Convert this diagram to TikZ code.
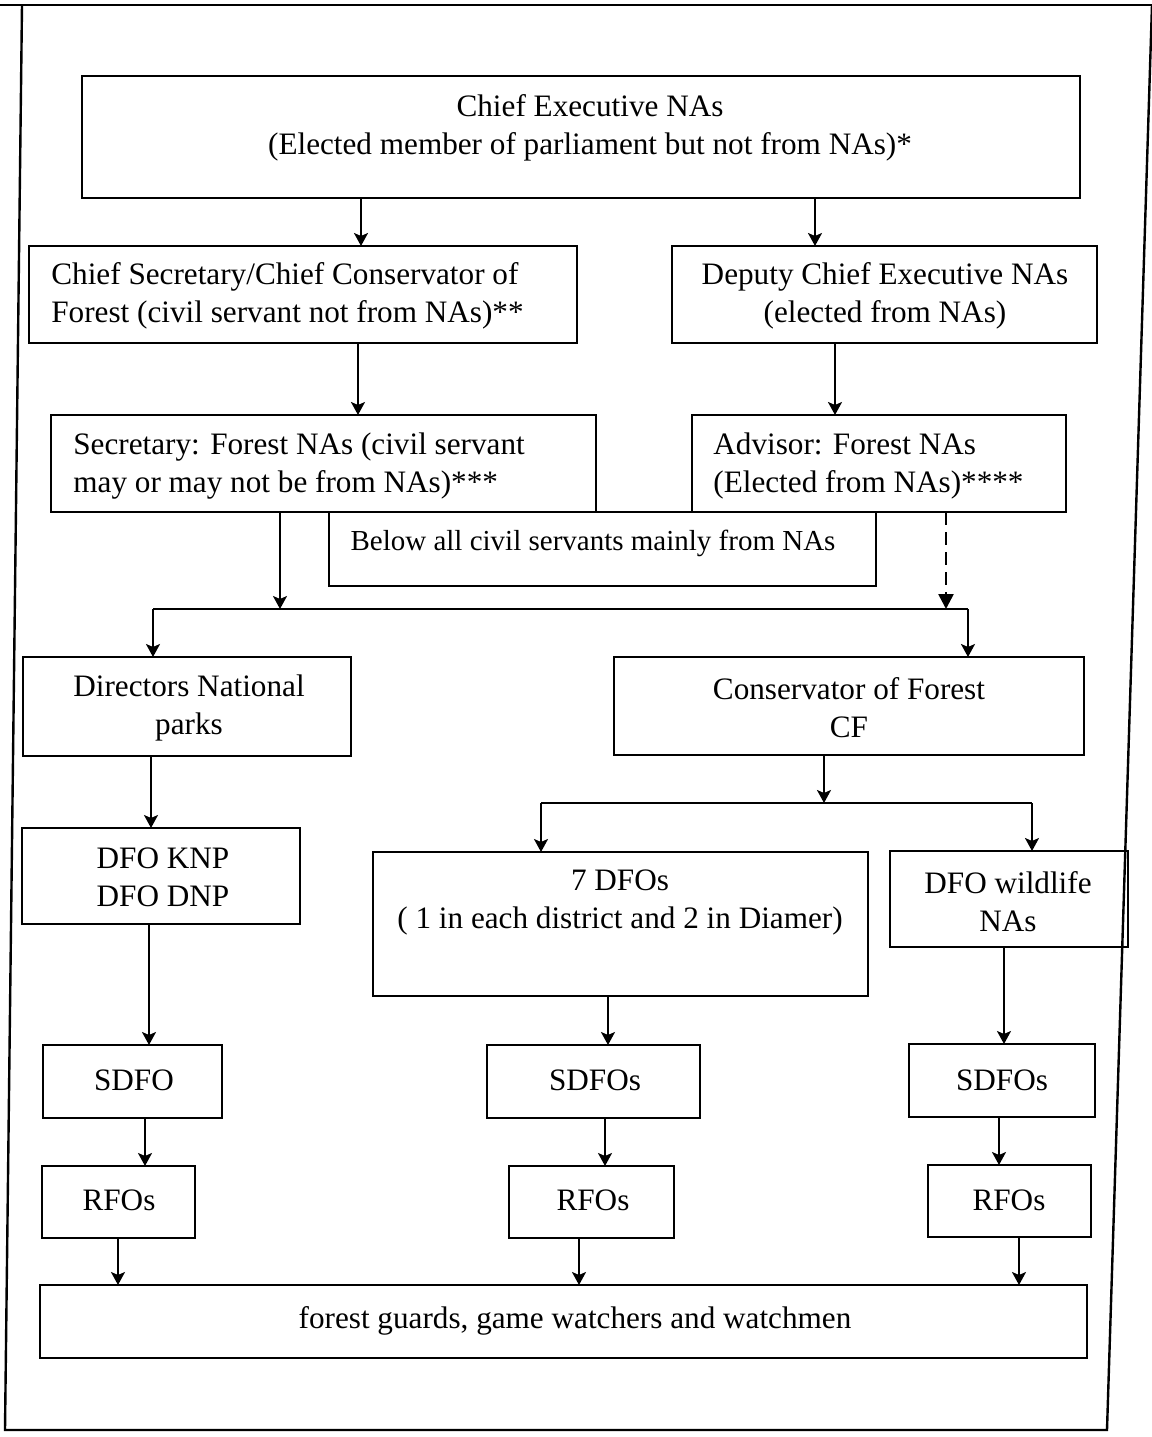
\documentclass[tikz,border=0pt]{standalone}
\usepackage{fontspec}
\setmainfont{Liberation Serif}
\usetikzlibrary{arrows.meta,fit}
\begin{document}
\begin{tikzpicture}[x=0.5pt,y=-0.5pt,
  box/.style={draw, line width=1.3pt, inner sep=0pt, outer sep=0pt},
  txt/.style={inner sep=0pt, font=\fontsize{15.6}{19}\selectfont, align=center},
  smalltxt/.style={inner sep=0pt, font=\fontsize{14.5}{17}\selectfont, align=center},
  wire/.style={line width=1pt},
  conn/.style={line width=1pt, -{Stealth[length=6.5pt,width=7pt,inset=1.5pt]}},
  dashconn/.style={line width=1.3pt, dash pattern=on 6.5pt off 3.5pt, -{Triangle[length=7.5pt,width=7.5pt]}},
  frame/.style={line width=1.2pt}]
\useasboundingbox (0,0) rectangle (1152,1437);
% outer frame
\draw[frame] (0,5) -- (1152,5);
\draw[frame] (22,5) -- (5,1430) -- (1107,1430) -- (1152,5);

% boxes
\node[box, fit={(82,76) (1080,198)}] (b1) {};
\node[box, fit={(29,246) (577,343)}] (b2L) {};
\node[box, fit={(672,246) (1097,343)}] (b2R) {};
\node[box, fit={(51,415) (596,512)}] (b3L) {};
\node[box, fit={(692,415) (1066,512)}] (b3R) {};
\node[box, fit={(329,512) (876,586)}] (bBelow) {};
\node[box, fit={(23,657) (351,756)}] (b4L) {};
\node[box, fit={(614,657) (1084,755)}] (b4R) {};
\node[box, fit={(22,828) (300,924)}] (b5L) {};
\node[box, fit={(373,852) (868,996)}] (b6) {};
\node[box, fit={(890,851) (1128,947)}] (b7) {};
\node[box, fit={(43,1045) (222,1118)}] (s1) {};
\node[box, fit={(487,1045) (700,1118)}] (s2) {};
\node[box, fit={(909,1044) (1095,1117)}] (s3) {};
\node[box, fit={(42,1166) (195,1238)}] (r1) {};
\node[box, fit={(509,1166) (674,1238)}] (r2) {};
\node[box, fit={(928,1165) (1091,1237)}] (r3) {};
\node[box, fit={(40,1285) (1087,1358)}] (bot) {};

% texts
\node[txt] (t1) at (590,128) {Chief Executive NAs\\(Elected member of parliament but not from NAs)*};
\node[txt, align=left, anchor=west] (t2L) at (51,296) {Chief Secretary/Chief Conservator of\\Forest (civil servant not from NAs)**};
\node[txt] (t2R) at (885,296) {Deputy Chief Executive NAs\\(elected from NAs)};
\node[txt, align=left, anchor=west] (t3L) at (73,466) {Secretary: Forest NAs (civil servant\\may or may not be from NAs)***};
\node[txt, align=left, anchor=west] (t3R) at (713,466) {Advisor: Forest NAs\\(Elected from NAs)****};
\node[smalltxt] (tBelow) at (593,543) {Below all civil servants mainly from NAs};
\node[txt] (t4L) at (189,708) {Directors National\\parks};
\node[txt] (t4R) at (849,708) {Conservator of Forest\\CF};
\node[txt] (t5L) at (163,877) {DFO KNP\\DFO DNP};
\node[txt] (t6) at (620,902) {7 DFOs\\( 1 in each district and 2 in Diamer)};
\node[txt] (t7) at (1008,902) {DFO wildlife\\NAs};
\node[txt] (ts1) at (134,1080) {SDFO};
\node[txt] (ts2) at (595,1080) {SDFOs};
\node[txt] (ts3) at (1002,1080) {SDFOs};
\node[txt] (tr1) at (119,1200) {RFOs};
\node[txt] (tr2) at (593,1200) {RFOs};
\node[txt] (tr3) at (1009,1200) {RFOs};
\node[txt] (tbot) at (575,1321) {forest guards, game watchers and watchmen};

% connector columns
\coordinate (xa) at (361,0);
\coordinate (xb) at (815,0);
\coordinate (xc) at (358,0);
\coordinate (xd) at (835,0);
\coordinate (xe) at (280,0);
\coordinate (xf) at (946,0);
\coordinate (xg) at (151,0);
\coordinate (xh) at (824,0);
\coordinate (xi) at (149,0);
\coordinate (xj) at (608,0);
\coordinate (xk) at (1004,0);
\coordinate (xl) at (145,0);
\coordinate (xm) at (605,0);
\coordinate (xn) at (999,0);
\coordinate (xo) at (118,0);
\coordinate (xp) at (579,0);
\coordinate (xq) at (1019,0);
\coordinate (bus1L) at (153,609);
\coordinate (bus1R) at (968,609);
\coordinate (bus2L) at (541,803);
\coordinate (bus2R) at (1032,803);

\draw[conn] (b1.south -| xa) -- (b2L.north -| xa);
\draw[conn] (b1.south -| xb) -- (b2R.north -| xb);
\draw[conn] (b2L.south -| xc) -- (b3L.north -| xc);
\draw[conn] (b2R.south -| xd) -- (b3R.north -| xd);
\draw[conn] (b3L.south -| xe) -- (xe |- bus1L);
\draw[dashconn] (b3R.south -| xf) -- (xf |- bus1L);
\draw[wire] (bus1L) -- (bus1R);
\draw[conn] (bus1L) -- (b4L.north -| bus1L);
\draw[conn] (bus1R) -- (b4R.north -| bus1R);
\draw[conn] (b4L.south -| xg) -- (b5L.north -| xg);
\draw[conn] (b4R.south -| xh) -- (xh |- bus2L);
\draw[wire] (bus2L) -- (bus2R);
\draw[conn] (bus2L) -- (b6.north -| bus2L);
\draw[conn] (bus2R) -- (b7.north -| bus2R);
\draw[conn] (b5L.south -| xi) -- (s1.north -| xi);
\draw[conn] (b6.south -| xj) -- (s2.north -| xj);
\draw[conn] (b7.south -| xk) -- (s3.north -| xk);
\draw[conn] (s1.south -| xl) -- (r1.north -| xl);
\draw[conn] (s2.south -| xm) -- (r2.north -| xm);
\draw[conn] (s3.south -| xn) -- (r3.north -| xn);
\draw[conn] (r1.south -| xo) -- (bot.north -| xo);
\draw[conn] (r2.south -| xp) -- (bot.north -| xp);
\draw[conn] (r3.south -| xq) -- (bot.north -| xq);
\end{tikzpicture}
\end{document}
